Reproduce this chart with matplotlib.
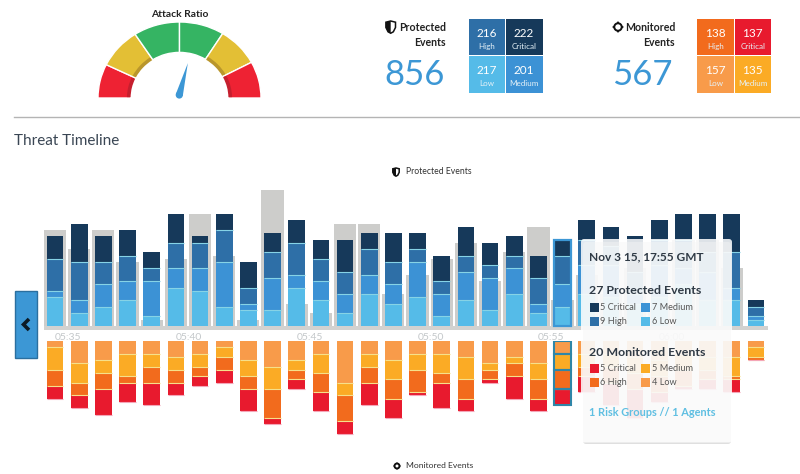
import matplotlib
matplotlib.use('Agg')
import matplotlib.pyplot as plt
from matplotlib.patches import Wedge, Rectangle, FancyBboxPatch, Polygon, Circle
import numpy as np

plt.rcParams['font.family'] = ['Lato', 'DejaVu Sans']

W, H = 800, 474

# summary numbers
attack_label = 'Attack Ratio'
gauge_sizes = [26, 31, 33, 32, 30, 28]
gauge_colors = ['#ee2233', '#e3bf35', '#35b463', '#35b463', '#e3bf35', '#ee2233']
needle_angle = 75
protected_total = 856
monitored_total = 567
levels = ['High', 'Critical', 'Low', 'Medium']
protected_counts = [216, 222, 217, 201]
monitored_counts = [138, 137, 157, 135]
protected_tiles = ['#2e6fa7', '#16395a', '#55bbe8', '#3c92d5']
monitored_tiles = ['#f26b1d', '#e81a2e', '#f89b4a', '#fbab25']

# timeline, one bar per minute
p_low = [9, 4, 6, 8, 3, 12, 11, 6, 5, 5, 12, 8, 4, 10, 7, 9, 3, 8, 5, 10, 4, 6, 10, 9, 7, 9, 13, 8, 8, 2]
p_med = [2, 4, 7, 6, 11, 6, 7, 14, 2, 10, 4, 6, 6, 6, 6, 11, 7, 9, 10, 8, 3, 7, 9, 10, 3, 10, 5, 9, 4, 1]
p_high = [10, 12, 7, 8, 4, 8, 8, 10, 5, 8, 10, 7, 7, 8, 7, 4, 4, 5, 4, 4, 8, 9, 8, 6, 7, 8, 9, 6, 11, 3]
p_crit = [7, 12, 8, 8, 5, 9, 2, 5, 8, 6, 7, 6, 10, 5, 9, 5, 8, 9, 7, 6, 7, 5, 6, 6, 11, 6, 8, 12, 12, 2]
p_prev = [30, 24, 30, 20, 2, 21, 35, 22, 2, 42.5, 7, 4, 32, 32, 10, 16, 21, 26, 14, 23, 31, 8, 16, 10, 18, 6, 27, 27, 18, 0]

m_low = [2, 7, 6, 4, 4, 5, 4, 2, 6, 8, 6, 4, 13, 4, 6, 4, 4, 5, 7, 5, 7, 4, 4, 4, 5, 6, 4, 5, 5, 2]
m_med = [7, 6, 4, 7, 4, 4, 4, 3, 5, 7, 3, 6, 4, 4, 6, 5, 6, 7, 2, 2, 5, 5, 4, 4, 5, 5, 5, 4, 6, 3]
m_high = [5, 4, 5, 2, 5, 4, 3, 4, 4, 9, 3, 6, 8, 5, 6, 7, 3, 6, 3, 4, 6, 6, 3, 5, 5, 5, 5, 3, 1, 1]
m_crit = [4, 4, 8, 6, 7, 4, 3, 4, 7, 2, 3, 6, 4, 7, 6, 1, 8, 4, 1, 7, 4, 5, 5, 7, 9, 3, 1, 3, 4, 0]

tick_pos = [0.54, 5.54, 10.54, 15.54, 20.54, 25.54]
tick_labels = ['05:35', '05:40', '05:45', '05:50', '05:55', '06:00']
selected = 21

# tooltip
tip_time = 'Nov 3 15, 17:55 GMT'
tip_protected = '27 Protected Events'
tip_monitored = '20 Monitored Events'
tip_footer = '1 Risk Groups // 1 Agents'
tip_p_labels = ['5 Critical', '7 Medium', '9 High', '6 Low']
tip_m_labels = ['5 Critical', '5 Medium', '6 High', '4 Low']
tip_p_colors = ['#16395a', '#3c92d5', '#2e6fa7', '#55bbe8']
tip_m_colors = ['#e81a2e', '#fbab25', '#f26b1d', '#f89b4a']

DARK = '#2f3a45'
BLUE = '#3c97d5'


def px_axes(x0, y0, x1, y1, z=1):
    a = fig.add_axes([x0 / W, 1 - y1 / H, (x1 - x0) / W, (y1 - y0) / H], zorder=z)
    a.patch.set_alpha(0)
    return a


fig = plt.figure(figsize=(W / 100, H / 100), dpi=100, facecolor='white')

# gauge
gx = px_axes(98, 22, 261, 98)
gx.set_xlim(-1, 1)
gx.set_ylim(0, 1)
gx.axis('off')
start = 180
for size, col in zip(gauge_sizes, gauge_colors):
    end = start - size
    gx.add_patch(Wedge((0, 0), 1, end, start, width=0.4, fc=col, ec='white', lw=1, clip_on=False))
    if col != '#35b463':
        shade = '#b9962c' if col == '#e3bf35' else '#c51f2e'
        gx.add_patch(Wedge((0, 0), 0.645, end + 1, start - 1, width=0.045, fc=shade, ec='none', clip_on=False))
    start = end

# top bars
xlim = (-0.455, 29.5)
bar_w = 0.69
unit = 3.2
tx = px_axes(44, 170, 768, 330)
tx.set_xlim(*xlim)
tx.set_ylim(-4 / unit, 156 / unit)
for s in tx.spines.values():
    s.set_visible(False)
tx.set_yticks([])
x = np.arange(len(p_low))
tx.axhspan(-4 / unit, 0, color='#d2d2d0', lw=0, zorder=1)
tx.bar(x, p_prev, width=0.92, color='#cdcdcb', zorder=1)
bottom = np.zeros(len(x))
for vals, col in zip([p_low, p_med, p_high, p_crit], ['#55bbe8', '#3c92d5', '#2e6fa7', '#16395a']):
    tx.bar(x, vals, width=bar_w, bottom=bottom, color=col, zorder=2)
    if col != '#16395a':
        bottom = bottom + np.array(vals)
        tx.hlines(bottom, x - bar_w / 2, x + bar_w / 2, color='#86d3e6', lw=0.8, zorder=3)
    else:
        bottom = bottom + np.array(vals)
tx.add_patch(Rectangle((selected - bar_w / 2 - 0.02, 0), bar_w + 0.04, bottom[selected], fc='none', ec=BLUE, lw=1.6, zorder=4))
tx.set_xticks(tick_pos)
tx.set_xticklabels(tick_labels, fontsize=7.5, color='#c4c8ca')
tx.tick_params(axis='x', length=0, pad=2.5)

# bottom bars
bx = px_axes(44, 341, 768, 441)
bx.set_xlim(*xlim)
bx.set_ylim(100 / unit, 0)
bx.axis('off')
bottom = np.zeros(len(x))
for vals, col in zip([m_low, m_med, m_high, m_crit], ['#f89b4a', '#fbab25', '#f26b1d', '#e81a2e']):
    bx.bar(x, vals, width=bar_w, bottom=bottom, color=col, zorder=2)
    bottom = bottom + np.array(vals)
    bx.hlines(bottom, x - bar_w / 2, x + bar_w / 2, color='#f6e08a' if col != '#e81a2e' else '#f4a6b8', lw=0.8, zorder=3)
    bx.add_patch(Rectangle((selected - bar_w / 2, bottom[selected] - vals[selected]), bar_w, vals[selected],
                           fc='none', ec='#2f86a8', lw=1.5, zorder=4))

# overlay in pixel coordinates for the panel furniture
ov = px_axes(0, 0, W, H, z=5)
ov.set_xlim(0, W)
ov.set_ylim(H, 0)
ov.axis('off')

ov.text(180, 14.5, attack_label, fontsize=7.4, fontweight='bold', color='#222222', ha='center', va='center')

# needle
a = np.radians(needle_angle)
tip = np.array([179.3 + 33 * np.cos(a), 95 - 33 * np.sin(a)])
side = np.array([np.sin(a), np.cos(a)]) * 3.6
ov.add_patch(Polygon([tip, [179.3, 95] + side, [179.3, 95] - side], fc=BLUE, ec='none'))
ov.add_patch(Circle((179.3, 95), 3.6, fc=BLUE, ec='none'))


def shield(cx, cy, r):
    ov.add_patch(Polygon([[cx - r, cy - r], [cx, cy - 1.25 * r], [cx + r, cy - r], [cx + r, cy + 0.1 * r],
                          [cx + 0.55 * r, cy + r], [cx, cy + 1.3 * r], [cx - 0.55 * r, cy + r], [cx - r, cy + 0.1 * r]],
                         fc='white', ec='#111111', lw=1.1))
    ov.add_patch(Polygon([[cx - r, cy - r], [cx, cy - 1.25 * r], [cx, cy + 1.3 * r], [cx - 0.55 * r, cy + r],
                          [cx - r, cy + 0.1 * r]], fc='#111111', ec='none'))


def target(cx, cy, r):
    ov.add_patch(Circle((cx, cy), 0.62 * r, fc='white', ec='#111111', lw=1.4))
    for dx, dy in [(1, 0), (-1, 0), (0, 1), (0, -1)]:
        ov.add_patch(Polygon([[cx + dx * r, cy + dy * r], [cx + dx * 0.55 * r + dy * 0.3 * r, cy + dy * 0.55 * r + dx * 0.3 * r],
                              [cx + dx * 0.55 * r - dy * 0.3 * r, cy + dy * 0.55 * r - dx * 0.3 * r]], fc='#111111', ec='none'))


def stat(icon_x, right, tx0, tx1, name, total, total_x, counts, colors, icon, icon_r):
    icon(icon_x, 27, icon_r)
    ov.text(right, 27, name, fontsize=7.6, color='#222222', fontweight='bold', ha='right', va='center')
    ov.text(right, 42, 'Events', fontsize=7.6, color='#222222', fontweight='bold', ha='right', va='center')
    ov.text(total_x, 75, str(total), fontsize=25, color=BLUE, ha='center', va='center')
    xs = [tx0, tx1, tx0, tx1]
    ys = [18.7, 18.7, 56.3, 56.3]
    for px, py, n, lab, col in zip(xs, ys, counts, levels, colors):
        ov.add_patch(Rectangle((px, py), 36.5, 36.4, fc=col, ec='none'))
        ov.text(px + 18, py + 14.5, str(n), fontsize=8.5, color='white', ha='center', va='center')
        ov.text(px + 18, py + 27.5, lab, fontsize=5.8, color='#e6f2f8', ha='center', va='center')


stat(390.7, 446, 468.7, 506, 'Protected', protected_total, 415, protected_counts, protected_tiles, shield, 4.8)
stat(618, 675, 697.3, 734.7, 'Monitored', monitored_total, 642.5, monitored_counts, monitored_tiles, target, 6)

# divider and section titles
ov.plot([14, 800], [116.7, 116.7], color='#b4b4b4', lw=1)
ov.text(14, 141, 'Threat Timeline', fontsize=11, color='#3a4654', ha='left', va='center')
shield(396, 172, 3.2)
ov.text(406, 172, 'Protected Events', fontsize=6.2, color='#333333', ha='left', va='center')
target(397, 466, 4)
ov.text(406, 466, 'Monitored Events', fontsize=6.1, color='#333333', ha='left', va='center')

# left arrow button
ov.add_patch(Rectangle((14.5, 291), 22.5, 67, fc=BLUE, ec='#2b6f9f', lw=1))
ov.plot([29, 23.5, 29], [319, 324.5, 330], color='#0c1a26', lw=2.6, solid_capstyle='butt', solid_joinstyle='miter')

# tooltip
ov.add_patch(FancyBboxPatch((583, 242), 148, 202, boxstyle='round,pad=0,rounding_size=3', fc='#b9b9b9', ec='none', alpha=0.45))
ov.add_patch(FancyBboxPatch((581, 239), 151, 203.5, boxstyle='round,pad=0,rounding_size=3', fc='white', ec='none', alpha=0.86))
ov.text(589, 257, tip_time, fontsize=8.6, fontweight='bold', color=DARK, ha='left', va='center')
ov.text(589, 291, tip_protected, fontsize=8.9, fontweight='bold', color=DARK, ha='left', va='center')
ov.text(589, 352, tip_monitored, fontsize=8.9, fontweight='bold', color=DARK, ha='left', va='center')
ov.text(589, 412, tip_footer, fontsize=7.9, fontweight='bold', color='#5fbfe2', ha='left', va='center')
for (labels, colors, y0) in [(tip_p_labels, tip_p_colors, 303), (tip_m_labels, tip_m_colors, 364)]:
    for i, (lab, col) in enumerate(zip(labels, colors)):
        sx = 590 if i % 2 == 0 else 641
        sy = y0 + (i // 2) * 14
        ov.add_patch(Rectangle((sx, sy), 9, 9, fc=col, ec='none'))
        ov.text(sx + 10.5, sy + 4.5, lab, fontsize=6.6, color='#555555', ha='left', va='center')

fig.savefig('out.png', dpi=100)
